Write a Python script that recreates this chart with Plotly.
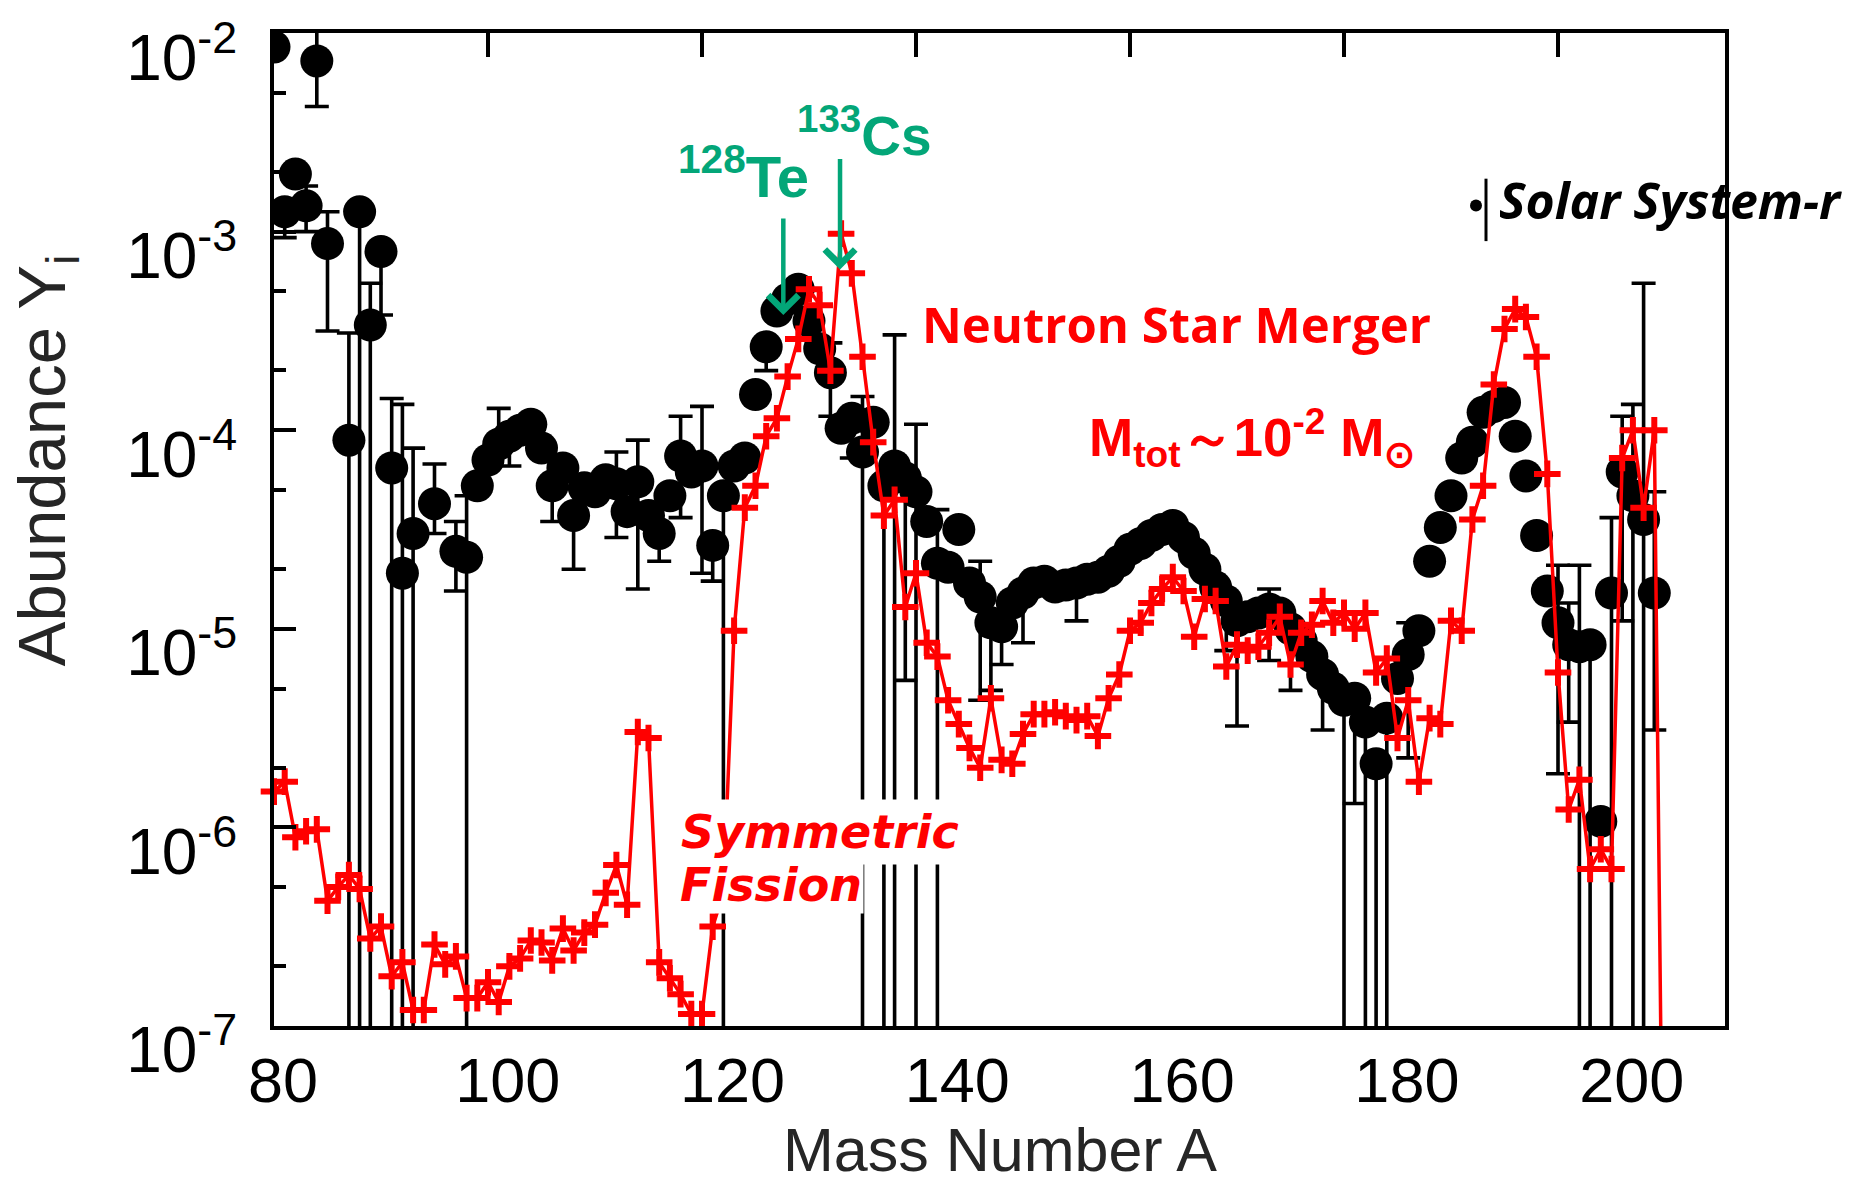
import plotly.graph_objects as go

# ---------------- data ----------------
# Solar-system r-process abundances (black dots), log10(Y) per mass number A
solar_A = [80, 81, 82, 83, 84, 85, 87, 88, 89, 90, 91, 92, 93, 95, 97, 98, 99,
           100, 101, 102, 103, 104, 105, 106, 107, 108, 109, 110, 111, 112, 113, 114,
           115, 116, 117, 118, 119, 120, 121, 122, 123, 124, 125, 126, 127, 128, 129,
           130, 131, 132, 133, 134, 135, 136, 137, 138, 139, 140, 141, 142, 143, 144,
           145, 146, 147, 148, 149, 150, 151, 152, 153, 154, 155, 156, 157, 158, 159,
           160, 161, 162, 163, 164, 165, 166, 167, 168, 169, 170, 171, 172, 173, 174,
           175, 176, 177, 178, 179, 180, 181, 182, 183, 184, 185, 186, 187, 188, 189,
           190, 191, 192, 193, 194, 195, 196, 197, 198, 199, 200, 201, 202, 203, 204,
           205, 206, 207, 208, 209]
solar_log10Y = [-2.07, -2.90, -2.71, -2.87, -2.14, -3.06, -4.05, -2.90, -3.47, -3.10,
                -4.19, -4.72, -4.52, -4.37, -4.61, -4.64, -4.28,
                -4.15, -4.07, -4.03, -4.00, -3.97, -4.09, -4.28, -4.19, -4.43, -4.29,
                -4.31, -4.25, -4.27, -4.41, -4.26, -4.43, -4.52, -4.33, -4.13, -4.21,
                -4.18, -4.58, -4.33, -4.18, -4.14, -3.82, -3.58, -3.40, -3.34, -3.29,
                -3.45, -3.59, -3.71, -3.99, -3.94, -4.11, -3.96, -4.28, -4.18, -4.24,
                -4.31, -4.46, -4.67, -4.69, -4.50, -4.77, -4.84, -4.97, -4.99, -4.87,
                -4.82, -4.77, -4.76, -4.79, -4.78, -4.77, -4.75, -4.74, -4.71, -4.66,
                -4.60, -4.57, -4.53, -4.50, -4.48, -4.54, -4.62, -4.70, -4.79, -4.86,
                -4.96, -4.94, -4.92, -4.90, -4.92, -5.00, -5.06, -5.14, -5.23, -5.30,
                -5.36, -5.35, -5.47, -5.68, -5.45, -5.25, -5.13, -5.01, -4.66, -4.49,
                -4.33, -4.14, -4.06, -3.91, -3.88, -3.86, -4.03, -4.23, -4.53, -4.81,
                -4.97, -5.08, -5.09, -5.08, -5.97, -4.82, -4.21, -4.33, -4.45, -4.82]
# error-bar ends, log10(Y); -12 means the bar runs off the bottom of the axis
solar_err_top = {84: -1.90, 83: -2.77, 85: -2.90, 87: -3.51, 89: -3.26, 91: -3.84,
                 92: -3.87, 93: -4.09, 95: -4.17, 97: -4.46, 98: -4.33, 101: -3.89,
                 112: -4.11, 114: -4.05, 118: -3.93, 120: -3.88, 132: -3.56, 135: -3.83,
                 138: -3.52, 140: -3.97, 142: -4.40, 146: -4.66, 173: -4.80, 186: -4.97,
                 200: -4.68, 201: -4.87, 202: -4.68, 205: -4.44, 206: -3.93, 207: -3.87,
                 208: -3.26, 209: -4.31}
solar_err_bottom = {81: -3.03, 83: -3.00, 84: -2.37, 85: -3.50, 87: -12, 88: -12,
                    89: -12, 90: -3.42, 91: -12, 92: -12, 93: -12, 95: -4.52, 97: -4.81,
                    98: -12, 102: -4.18, 106: -4.46, 108: -4.70, 112: -4.54, 114: -4.80,
                    116: -4.66, 118: -4.44, 120: -4.72, 121: -4.76, 122: -12, 126: -3.70,
                    132: -3.93, 134: -4.14, 135: -12, 137: -12, 138: -12, 139: -5.26,
                    140: -12, 142: -12, 146: -5.36, 147: -5.31, 148: -5.18, 150: -5.07,
                    155: -4.96, 169: -5.11, 170: -5.49, 173: -5.16, 175: -5.31, 178: -5.51,
                    180: -12, 181: -5.88, 182: -12, 183: -12, 184: -12, 186: -5.65,
                    200: -5.73, 201: -5.47, 202: -12, 203: -12, 205: -12, 206: -4.96,
                    207: -12, 208: -12, 209: -5.51}

# Neutron star merger model (red crosses), log10(Y) for A = 80 ... 210
nsm_A = list(range(80, 211))
nsm_log10Y = [-5.82, -5.77, -6.05, -6.02, -6.01, -6.37, -6.30, -6.24, -6.31, -6.56,
              -6.50, -6.75, -6.68, -6.92, -6.92, -6.59, -6.69, -6.65, -6.86, -6.86,
              -6.78, -6.88, -6.70, -6.66, -6.57, -6.58, -6.67, -6.51, -6.62, -6.53,
              -6.49, -6.33, -6.19, -6.39, -5.52, -5.55, -6.68, -6.76, -6.84, -6.94,
              -6.94, -6.50, -6.33, -5.01, -4.39, -4.28, -4.03, -3.94, -3.73, -3.54,
              -3.29, -3.37, -3.70, -3.01, -3.21, -3.63, -4.06, -4.43, -4.35, -4.89,
              -4.72, -5.07, -5.14, -5.36, -5.48, -5.60, -5.70, -5.35, -5.66, -5.68,
              -5.53, -5.43, -5.43, -5.42, -5.44, -5.46, -5.44, -5.54, -5.35, -5.23,
              -5.01, -4.97, -4.87, -4.80, -4.74, -4.81, -5.04, -4.85, -4.86, -5.19,
              -5.08, -5.11, -5.09, -5.02, -4.94, -5.18, -5.02, -4.98, -4.86, -4.97,
              -4.92, -5.00, -4.92, -5.22, -5.15, -5.55, -5.36, -5.77, -5.45, -5.48,
              -4.96, -5.01, -4.45, -4.28, -3.77, -3.49, -3.39, -3.43, -3.63, -4.22,
              -5.22, -5.91, -5.76, -6.21, -6.11, -6.21, -4.14, -4.00, -4.39, -4.00,
              -9.00]

x_tick_labels = ["80", "100", "120", "140", "160", "180", "200"]
x_label_values = [80, 100, 120, 140, 160, 180, 200]
x_top_ticks = [100, 120, 140, 160, 180, 200]
y_tick_exponents = [-7, -6, -5, -4, -3, -2]

# ---------------- figure ----------------
W, H = 1850, 1186
L, R, T, B = 274, 1725, 24, 1026          # plot-area edges in pixels
def px(X):
    return (X - L) / (R - L)
def py(Y):
    return (B - Y) / (B - T)

RED = "#FF0000"
GREEN = "#03A678"

solar_Y = [10 ** v for v in solar_log10Y]
err_plus = [(10 ** solar_err_top[a] - y) if a in solar_err_top else 0
            for a, y in zip(solar_A, solar_Y)]
err_minus = [(y - 10 ** solar_err_bottom[a]) if a in solar_err_bottom else 0
             for a, y in zip(solar_A, solar_Y)]
nsm_Y = [10 ** v for v in nsm_log10Y]
nsm_mark_A = [a for a, v in zip(nsm_A, nsm_log10Y) if v > -7]
nsm_mark_Y = [10 ** v for v in nsm_log10Y if v > -7]

fig = go.Figure()

fig.add_trace(go.Scatter(
    x=solar_A, y=solar_Y, mode="markers", name="Solar System-r",
    marker=dict(symbol="circle", size=33, color="black"),
    error_y=dict(type="data", symmetric=False, array=err_plus, arrayminus=err_minus,
                 color="black", thickness=3.6, width=12),
    showlegend=False, cliponaxis=True))

fig.add_trace(go.Scatter(
    x=nsm_A, y=nsm_Y, mode="lines", line=dict(color=RED, width=3.5),
    showlegend=False, hoverinfo="skip"))

fig.add_trace(go.Scatter(
    x=nsm_mark_A, y=nsm_mark_Y, mode="markers", name="Neutron Star Merger",
    marker=dict(symbol="cross-thin", size=19, color=RED, line=dict(color=RED, width=6)),
    showlegend=False, cliponaxis=False))

# carrier trace for the bottom label axis
fig.add_trace(go.Scatter(x=x_label_values, y=[None] * len(x_label_values), xaxis="x2",
                         mode="markers", showlegend=False, hoverinfo="skip"))

fig.update_layout(
    width=W, height=H,
    margin=dict(l=L, r=W - R, t=T, b=H - B),
    paper_bgcolor="white", plot_bgcolor="white",
    font=dict(family="Liberation Sans, Arial, sans-serif", color="black"),
    xaxis=dict(range=[80, 80 + (R - L) / 10.7], side="top", showticklabels=False,
               tickvals=x_top_ticks, ticks="inside", ticklen=24, tickwidth=3.5,
               tickcolor="black", showline=True, linewidth=4, linecolor="black",
               mirror=True, showgrid=False, zeroline=False),
    xaxis2=dict(range=[79.2, 208.3], overlaying="x", side="bottom", anchor="y",
                tickvals=x_label_values, ticktext=x_tick_labels, ticks="",
                showline=False, showgrid=False, zeroline=False,
                tickfont=dict(size=63, color="black"), ticklabelstandoff=12),
    yaxis=dict(type="log", range=[-7.0005, -1.9995], showline=True, linewidth=4,
               linecolor="black", mirror=True, showgrid=False, zeroline=False,
               tickvals=[10 ** e for e in y_tick_exponents],
               ticktext=["10<sup>%d</sup>" % e for e in y_tick_exponents],
               ticks="inside", ticklen=22, tickwidth=3.5, tickcolor="black",
               tickfont=dict(size=64, color="black"),
               ticklabelshift=24, ticklabelstandoff=20,
               minor=dict(ticks="inside", ticklen=12, tickwidth=3.5, tickcolor="black",
                          tickvals=[m * 10 ** e for e in range(-7, -2) for m in (2, 5)])),
)

def note(text, X, Y, size, color, family=None, xanchor="center", **kw):
    f = dict(size=size, color=color)
    if family:
        f["family"] = family
    d = dict(text=text, xref="paper", yref="paper", x=px(X), y=py(Y),
             xanchor=xanchor, yanchor="middle", showarrow=False, font=f)
    d.update(kw)
    return d

ann = []
# axis titles
ann.append(note("Abundance Y<sub>i</sub>", 46, 455, 67, "#262626", textangle=-90))
ann.append(note("Mass Number A", 1000, 1151, 61, "#262626"))
# isotope labels + arrows
ann.append(note("<b><sup>128</sup>Te</b>", 743, 165, 58, GREEN))
ann.append(note("<b><sup>133</sup>Cs</b>", 864, 124, 55, GREEN))
ann.append(dict(text="", x=127.6, y=-3.42, xref="x", yref="y", showarrow=True,
                ax=0, ay=-98, arrowhead=4, arrowsize=1.3, arrowwidth=4.5,
                arrowcolor=GREEN))
ann.append(dict(text="", x=132.9, y=-3.19, xref="x", yref="y", showarrow=True,
                ax=0, ay=-112, arrowhead=4, arrowsize=1.3, arrowwidth=4.5,
                arrowcolor=GREEN))
# model labels
ann.append(note("<b>Neutron Star Merger</b>", 1176, 318, 49, RED,
                family="Open Sans, sans-serif"))
ann.append(note("<b>M<sub>tot</sub>～10<sup>-2</sup> M<sub>⊙</sub></b>", 1252, 432, 53, RED))
ann.append(note("<b><i>Fission</i></b>", 678, 884, 46, RED,
                family="DejaVu Sans, sans-serif", xanchor="left",
                bgcolor="white", borderpad=1))
ann.append(note("<b><i>Symmetric</i></b>", 675, 830, 46, RED,
                family="DejaVu Sans, sans-serif", xanchor="left",
                bgcolor="white", borderpad=5))
# legend entry
ann.append(note("<b><i>Solar System-r</i></b>", 1497, 193, 50, "black",
                family="Open Sans, sans-serif", xanchor="left"))
fig.update_layout(annotations=ann)

fig.update_layout(shapes=[
    dict(type="circle", xref="paper", yref="paper", x0=px(1470), x1=px(1482),
         y0=py(204), y1=py(192), fillcolor="black", line=dict(width=0)),
    dict(type="line", xref="paper", yref="paper", x0=px(1486), x1=px(1486),
         y0=py(171), y1=py(234), line=dict(color="black", width=3)),
])

fig.write_html("out.html")
